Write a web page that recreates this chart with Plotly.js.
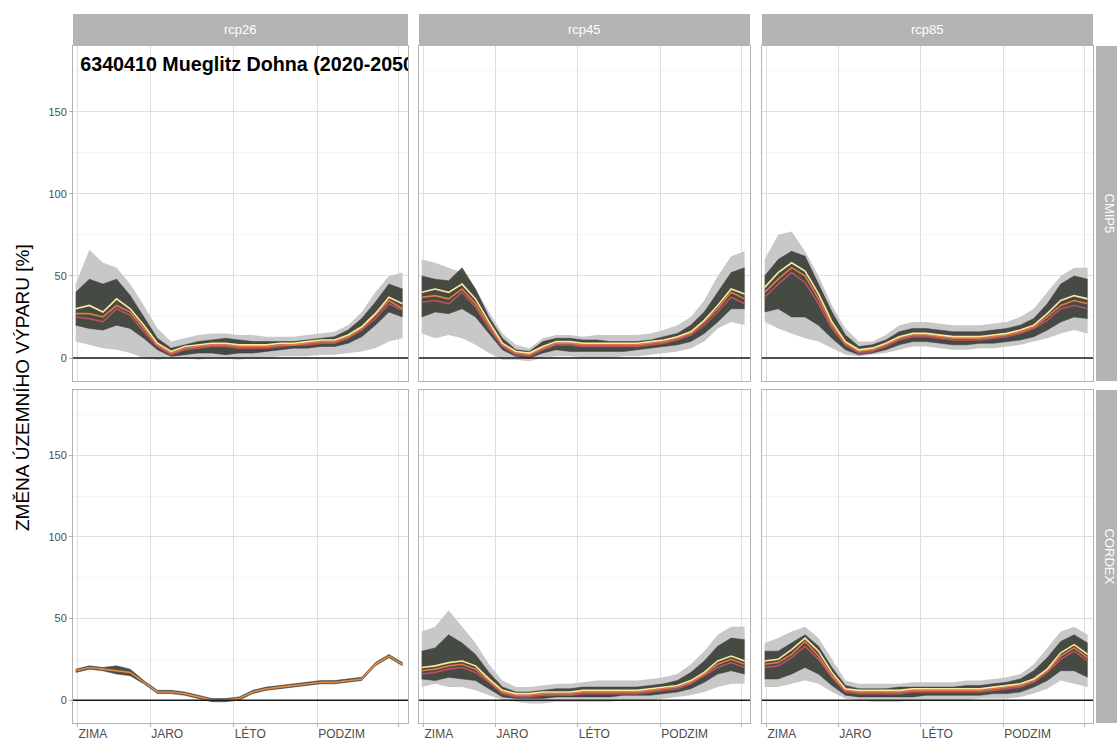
<!DOCTYPE html>
<html><head><meta charset="utf-8">
<script src="https://cdn.plot.ly/plotly-3.0.1.min.js"></script>
<style>html,body{margin:0;padding:0;background:#fff}#chart{width:1117px;height:749px}</style>
</head><body><div id="chart"></div>
<script>
// ---- data ----
const days = [0,15,30,45,60,75,90,105,120,135,150,165,180,195,210,225,240,255,270,285,300,315,330,345,360];
const seasonTickDays = [2,82,174,266,356];
const seasonLabels = ['ZIMA','JARO','LÉTO','PODZIM',''];
const yTickVals = [0,50,100,150];
const yTickText = ['0','50','100','150'];
const rcpLabels = ['rcp26','rcp45','rcp85'];
const sourceLabels = ['CMIP5','CORDEX'];
const chartTitle = '6340410 Mueglitz Dohna (2020-2050)';
const yTitle = 'ZMĚNA ÚZEMNÍHO VÝPARU [%]';

// CMIP5 rcp26
const cmip26_gHi = [45,66,58,55,45,32,18,10,12,14,15,15,14,14,13,13,13,14,15,16,20,28,40,50,52];
const cmip26_gLo = [10,8,6,5,3,0,-1,0,0,-1,0,0,-1,0,0,1,1,1,2,2,3,4,6,10,12];
const cmip26_dHi = [40,48,45,48,38,25,12,6,8,10,11,12,11,10,10,10,10,11,12,13,17,24,34,45,42];
const cmip26_dLo = [20,18,17,20,18,12,5,1,2,3,3,2,3,3,4,5,6,6,7,7,9,13,20,28,25];
const cmip26_lA = [27,27,25,32,28,18,8,3,6,7,8,8,7,7,7,8,8,9,10,10,13,18,26,35,30];
const cmip26_lB = [25,24,22,30,26,16,7,2,5,6,7,7,6,6,6,7,8,8,9,9,12,17,24,33,29];
const cmip26_lC = [30,32,28,36,30,20,9,4,7,8,9,9,8,8,8,9,9,10,11,11,14,19,27,37,33];
// CMIP5 rcp45
const cmip45_gHi = [60,58,55,52,42,28,15,8,6,12,14,14,13,14,14,14,14,15,17,20,25,35,50,62,65];
const cmip45_gLo = [15,12,14,12,8,3,-1,-1,-2,0,1,1,0,0,0,1,1,2,3,4,6,10,18,22,20];
const cmip45_dHi = [50,48,47,55,42,25,12,5,4,10,12,12,11,11,10,10,10,11,13,15,20,28,40,52,55];
const cmip45_dLo = [25,28,27,30,25,15,5,1,0,3,5,4,4,4,4,4,5,6,7,8,10,15,22,30,30];
const cmip45_lA = [37,38,36,42,33,20,8,3,2,6,9,9,8,8,8,8,8,9,10,12,15,22,30,40,36];
const cmip45_lB = [34,35,33,40,31,18,7,2,1,5,8,8,7,7,7,7,7,8,9,11,14,20,28,37,33];
const cmip45_lC = [40,42,40,45,36,22,9,4,3,7,10,10,9,9,9,9,9,10,11,13,16,23,32,42,39];
// CMIP5 rcp85
const cmip85_gHi = [60,75,77,65,50,32,18,10,10,14,20,22,22,21,20,20,20,21,22,25,30,40,50,55,55];
const cmip85_gLo = [22,18,15,12,10,6,2,1,2,3,5,7,7,6,5,5,6,6,7,8,10,12,15,17,15];
const cmip85_dHi = [50,60,65,62,45,28,14,7,8,11,16,18,18,17,16,16,16,17,18,20,24,33,45,50,48];
const cmip85_dLo = [28,30,25,25,20,12,5,2,3,5,8,10,10,9,8,8,9,9,10,11,13,17,22,25,24];
const cmip85_lA = [40,48,55,50,36,20,9,4,5,8,12,14,14,13,12,12,12,13,14,16,19,25,32,35,33];
const cmip85_lB = [37,45,52,46,33,18,8,3,4,7,11,13,13,12,11,11,11,12,13,15,18,23,30,32,30];
const cmip85_lC = [43,52,58,53,39,22,10,5,6,9,13,15,15,14,13,13,13,14,15,17,20,27,35,38,36];
// CORDEX rcp26 (single model)
const cordex26_dHi = [19,21,20,21,19,12,6,6,5,3,1,1,2,6,8,9,10,11,12,12,13,14,23,28,23];
const cordex26_dLo = [17,19,18,16,15,10,4,4,3,1,-1,-1,0,4,6,7,8,9,10,10,11,12,21,26,21];
const cordex26_lA = [18,20,19,18,17,11,5,5,4,2,0,0,1,5,7,8,9,10,11,11,12,13,22,27,22];
// CORDEX rcp45
const cordex45_gHi = [42,45,55,45,35,22,12,8,8,9,10,10,11,12,12,12,12,13,14,16,22,30,40,45,45];
const cordex45_gLo = [8,10,8,8,6,3,0,-1,-2,-2,-1,-1,-1,-1,-1,0,0,0,1,2,3,5,8,10,10];
const cordex45_dHi = [30,32,40,35,28,17,8,5,5,6,7,7,8,8,8,8,8,9,10,12,17,24,33,38,37];
const cordex45_dLo = [13,12,14,13,12,7,2,1,1,1,2,2,2,2,2,3,3,3,4,5,7,11,16,18,16];
const cordex45_lA = [18,19,21,22,19,12,5,3,3,4,4,4,5,5,5,5,5,6,7,8,11,16,22,25,22];
const cordex45_lB = [16,17,19,20,17,11,4,2,2,3,3,3,4,4,4,4,4,5,6,7,10,15,20,23,20];
const cordex45_lC = [20,21,23,24,21,13,6,4,4,5,5,5,6,6,6,6,6,7,8,9,12,17,24,27,24];
// CORDEX rcp85
const cordex85_gHi = [35,38,42,45,38,25,12,10,10,10,10,11,11,11,11,12,12,13,14,16,22,32,42,45,40];
const cordex85_gLo = [8,8,10,12,10,5,1,0,-1,-1,-1,0,0,0,0,0,1,1,1,2,4,7,12,10,8];
const cordex85_dHi = [30,30,35,40,33,20,9,7,7,7,8,8,8,8,8,9,9,10,11,13,18,26,36,40,35];
const cordex85_dLo = [13,13,16,20,16,9,3,2,2,2,2,2,3,3,3,3,3,4,4,5,8,12,18,18,14];
const cordex85_lA = [22,23,28,36,27,15,6,5,5,5,5,6,6,6,6,6,6,7,8,9,12,18,27,32,26];
const cordex85_lB = [20,21,26,33,25,14,5,4,4,4,4,5,5,5,5,5,5,6,7,8,11,17,25,30,24];
const cordex85_lC = [24,25,31,38,30,17,7,6,6,6,6,7,7,7,7,7,7,8,9,10,13,19,29,34,28];

const panels = [
  {g:[cmip26_gLo,cmip26_gHi], d:[cmip26_dLo,cmip26_dHi], l:[cmip26_lB,cmip26_lA,cmip26_lC]},
  {g:[cmip45_gLo,cmip45_gHi], d:[cmip45_dLo,cmip45_dHi], l:[cmip45_lB,cmip45_lA,cmip45_lC]},
  {g:[cmip85_gLo,cmip85_gHi], d:[cmip85_dLo,cmip85_dHi], l:[cmip85_lB,cmip85_lA,cmip85_lC]},
  {g:null, d:[cordex26_dLo,cordex26_dHi], l:[cordex26_lA]},
  {g:[cordex45_gLo,cordex45_gHi], d:[cordex45_dLo,cordex45_dHi], l:[cordex45_lB,cordex45_lA,cordex45_lC]},
  {g:[cordex85_gLo,cordex85_gHi], d:[cordex85_dLo,cordex85_dHi], l:[cordex85_lB,cordex85_lA,cordex85_lC]}
];

// ---- styling ----
const W = 1117, H = 749;
const colPx = [[73,408],[419,750],[762,1093]];
const rowPx = [[46,381],[390,723]];
const lineColors = ['#b8506a','#e07b39','#ffe7a6'];
const greyFill = 'rgba(200,200,200,1)';
const darkFill = 'rgba(50,56,48,0.88)';
const FONT = 'Liberation Sans, Arial, sans-serif';

const traces = [];
const layout = {
  width: W, height: H, autosize: false,
  margin: {l:0, r:0, t:0, b:0},
  paper_bgcolor: '#fff', plot_bgcolor: '#fff',
  showlegend: false, font: {family: FONT},
  shapes: [], annotations: []
};

panels.forEach((p, i) => {
  const r = Math.floor(i/3), c = i % 3;
  const xa = i === 0 ? 'x' : 'x' + (i+1);
  const ya = i === 0 ? 'y' : 'y' + (i+1);
  const xk = i === 0 ? 'xaxis' : 'xaxis' + (i+1);
  const yk = i === 0 ? 'yaxis' : 'yaxis' + (i+1);
  layout[xk] = {
    domain: [colPx[c][0]/W, colPx[c][1]/W], anchor: ya, range: [-3, 366],
    tickmode: 'array', tickvals: seasonTickDays, ticktext: seasonLabels,
    showticklabels: r === 1, ticks: r === 1 ? 'outside' : '', ticklen: 3, tickcolor: '#b3b3b3',
    ticklabelposition: 'outside right',
    tickfont: {size: 12, color: '#4d4d4d', family: FONT},
    showgrid: true, gridcolor: '#dedede', gridwidth: 1,
    showline: true, mirror: true, linecolor: '#b3b3b3', linewidth: 1,
    zeroline: false, fixedrange: true
  };
  layout[yk] = {
    domain: [1 - rowPx[r][1]/H, 1 - rowPx[r][0]/H], anchor: xa, range: [-14, 190],
    tickmode: 'array', tickvals: yTickVals, ticktext: yTickText,
    showticklabels: c === 0, ticks: c === 0 ? 'outside' : '', ticklen: 3, tickcolor: '#b3b3b3',
    tickfont: {size: 11, color: '#4d4d4d', family: FONT},
    showgrid: true, gridcolor: '#dedede', gridwidth: 1,
    minor: {tickmode: 'array', tickvals: [25,75,125,175], showgrid: true, gridcolor: '#efefef', gridwidth: 0.6, ticks: ''},
    showline: true, mirror: true, linecolor: '#b3b3b3', linewidth: 1,
    zeroline: false, fixedrange: true
  };
  if (p.g) {
    traces.push({x: days, y: p.g[0], xaxis: xa, yaxis: ya, mode: 'lines', line: {width: 0, color: greyFill}, hoverinfo: 'skip'});
    traces.push({x: days, y: p.g[1], xaxis: xa, yaxis: ya, mode: 'lines', line: {width: 0, color: greyFill}, fill: 'tonexty', fillcolor: greyFill, hoverinfo: 'skip'});
  }
  traces.push({x: days, y: p.d[0], xaxis: xa, yaxis: ya, mode: 'lines', line: {width: 0.5, color: '#3a3a3a'}, hoverinfo: 'skip'});
  traces.push({x: days, y: p.d[1], xaxis: xa, yaxis: ya, mode: 'lines', line: {width: 0.5, color: '#3a3a3a'}, fill: 'tonexty', fillcolor: darkFill, hoverinfo: 'skip'});
  p.l.forEach((ys, k) => {
    const col = p.l.length === 1 ? '#e8893f' : lineColors[k];
    traces.push({x: days, y: ys, xaxis: xa, yaxis: ya, mode: 'lines', line: {width: 1.6, color: col}, hoverinfo: 'skip'});
  });
  layout.shapes.push({type: 'line', xref: xa + ' domain', yref: ya, x0: 0, x1: 1, y0: 0, y1: 0, line: {color: '#1a1a1a', width: 1.5}, layer: 'above'});
});

// title inside first panel, clipped at its edge
traces.push({x: [5], y: [178], xaxis: 'x', yaxis: 'y', mode: 'text', text: [chartTitle], textposition: 'middle right',
  textfont: {family: FONT, size: 19.7, color: '#000', weight: 'bold'}, cliponaxis: true, hoverinfo: 'skip'});

// top strips
rcpLabels.forEach((lab, c) => {
  layout.shapes.push({type: 'rect', xref: 'paper', yref: 'paper', x0: colPx[c][0]/W, x1: colPx[c][1]/W,
    y0: 1 - 45/H, y1: 1 - 14/H, fillcolor: '#b3b3b3', line: {width: 0}, layer: 'below'});
  layout.annotations.push({xref: 'paper', yref: 'paper', x: (colPx[c][0]+colPx[c][1])/2/W, y: 1 - 29.5/H,
    text: lab, showarrow: false, font: {size: 13, color: '#fff', family: FONT}, xanchor: 'center', yanchor: 'middle'});
});
// right strips
sourceLabels.forEach((lab, r) => {
  layout.shapes.push({type: 'rect', xref: 'paper', yref: 'paper', x0: 1096/W, x1: 1.02,
    y0: 1 - rowPx[r][1]/H, y1: 1 - rowPx[r][0]/H, fillcolor: '#b3b3b3', line: {width: 0}, layer: 'below'});
  layout.annotations.push({xref: 'paper', yref: 'paper', x: 1109/W, y: 1 - (rowPx[r][0]+rowPx[r][1])/2/H,
    text: lab, textangle: 90, showarrow: false, font: {size: 13, color: '#fff', family: FONT}, xanchor: 'center', yanchor: 'middle'});
});
// y title
layout.annotations.push({xref: 'paper', yref: 'paper', x: 22/W, y: 1 - 388/H, text: yTitle, textangle: -90,
  showarrow: false, font: {size: 19, color: '#000', family: FONT}, xanchor: 'center', yanchor: 'middle'});

Plotly.newPlot('chart', traces, layout, {staticPlot: true, displayModeBar: false});
</script></body></html>
